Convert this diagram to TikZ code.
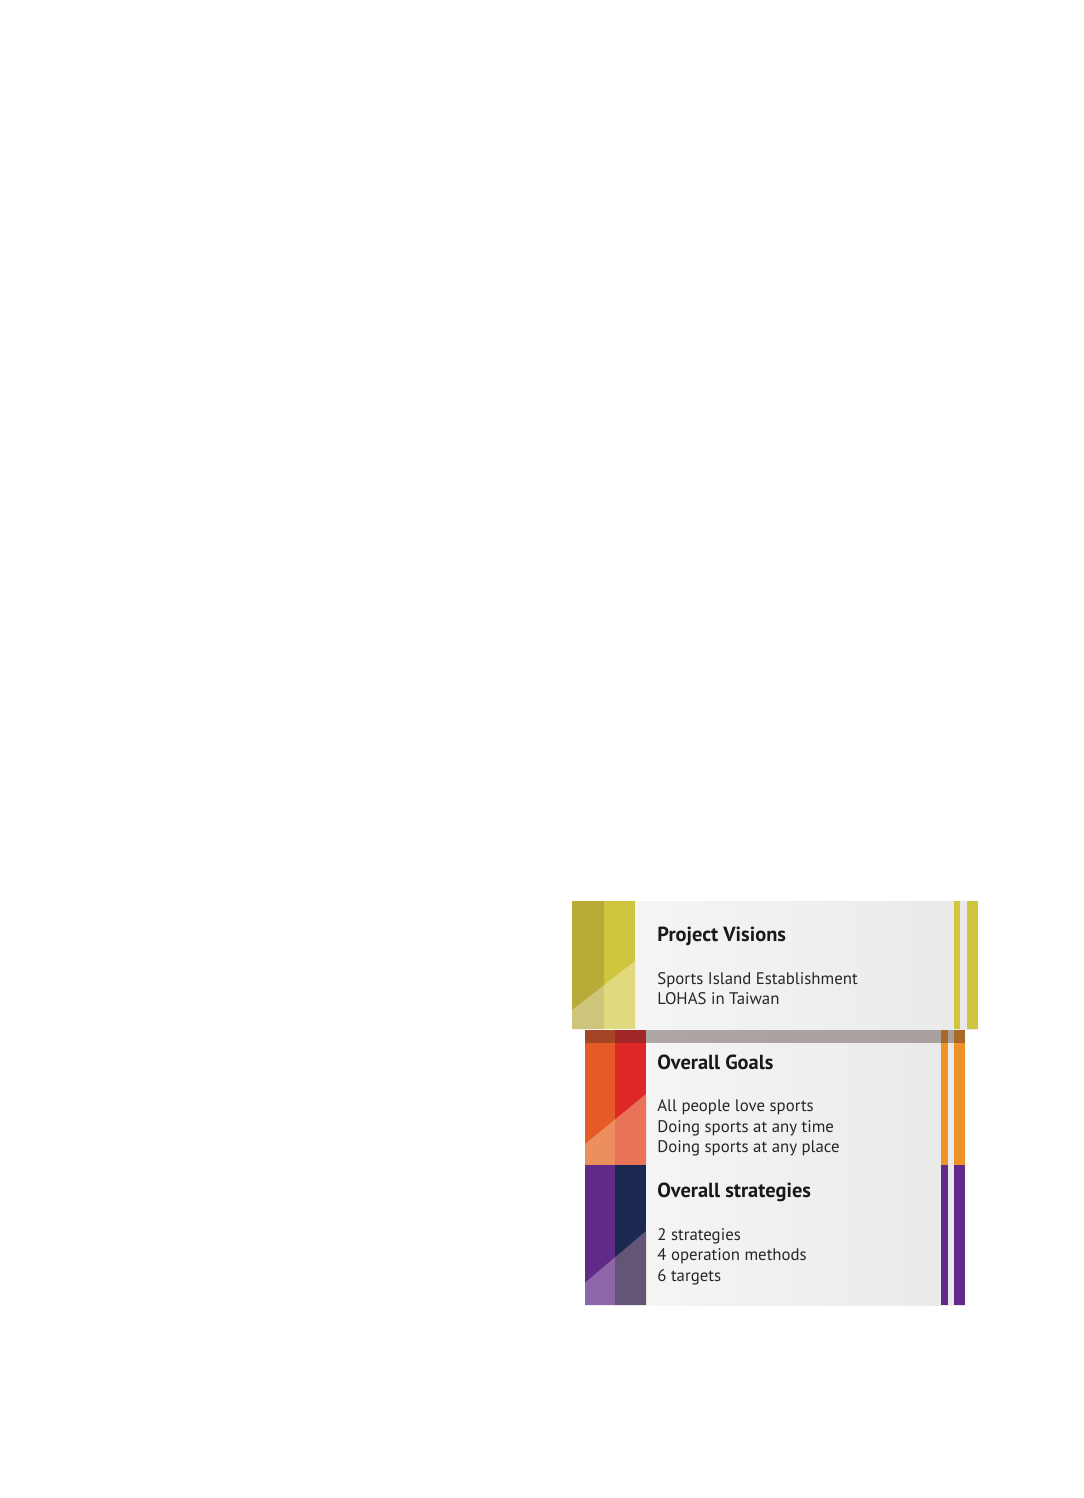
\documentclass[tikz,border=0pt]{standalone}
\usepackage{fontspec}
\setmainfont{PT Sans}
\definecolor{visdark}{HTML}{B8AB37}
\definecolor{vislite}{HTML}{D0C53E}
\definecolor{visdarkpale}{HTML}{CFC57A}
\definecolor{vislitepale}{HTML}{E0D97E}
\definecolor{goalorange}{HTML}{E55A27}
\definecolor{goalred}{HTML}{DF2727}
\definecolor{goalorangepale}{HTML}{EB8F5E}
\definecolor{goalredpale}{HTML}{E87358}
\definecolor{goalside}{HTML}{EF922A}
\definecolor{stratpurple}{HTML}{612A88}
\definecolor{stratnavy}{HTML}{1D2851}
\definecolor{stratpurplepale}{HTML}{8C66A8}
\definecolor{stratnavypale}{HTML}{635576}
\definecolor{barshade}{HTML}{3C2823}
\tikzstyle{panelbg}=[left color=black!4, right color=black!8.5]
\tikzstyle{ptitle}=[anchor=base west, inner sep=0pt, font=\fontsize{10.2}{12}\selectfont\bfseries, text=black!90]
\tikzstyle{pline}=[anchor=base west, inner sep=0pt, font=\fontsize{8.4}{10}\selectfont, text=black!85]

\begin{document}
\begin{tikzpicture}[x=0.5pt, y=-0.5pt]
        \useasboundingbox[fill=white] (0, 0) rectangle (1083, 1498);
        % project visions
        \shade[panelbg] (635, 901) rectangle (978, 1029);
        \fill[visdark] (572, 901) rectangle (604, 1029);
        \fill[vislite] (604, 901) rectangle (635, 1029);
        \fill[visdarkpale] (572, 1010) -- (604, 985.1) -- (604, 1029) -- (572, 1029) -- cycle;
        \fill[vislitepale] (604, 985.1) -- (635, 961) -- (635, 1029) -- (604, 1029) -- cycle;
        \fill[vislite] (954, 901) rectangle (960, 1029);
        \fill[vislite] (967, 901) rectangle (978, 1029);
        \node[ptitle] (vis-title) at (657, 941.7) {Project Visions};
        \node[pline] (vis-a) at (657, 984.3) {Sports Island Establishment};
        \node[pline] (vis-b) at (657, 1004.6) {LOHAS in Taiwan};
        % overall goals
        \shade[panelbg] (646, 1030) rectangle (965, 1165);
        \fill[goalorange] (585, 1030) rectangle (615, 1165);
        \fill[goalred] (615, 1030) rectangle (646, 1165);
        \fill[goalorangepale] (585, 1144) -- (615, 1119.4) -- (615, 1165) -- (585, 1165) -- cycle;
        \fill[goalredpale] (615, 1119.4) -- (646, 1094) -- (646, 1165) -- (615, 1165) -- cycle;
        \fill[goalside] (941, 1030) rectangle (947.7, 1165);
        \fill[goalside] (954, 1030) rectangle (965, 1165);
        \fill[barshade, opacity=0.38] (585, 1030) rectangle (965, 1043);
        \node[ptitle] (goal-title) at (657, 1069.3) {Overall Goals};
        \node[pline] (goal-a) at (657, 1111.7) {All people love sports};
        \node[pline] (goal-b) at (657, 1132.3) {Doing sports at any time};
        \node[pline] (goal-c) at (657, 1152.9) {Doing sports at any place};
        % overall strategies
        \shade[panelbg] (646, 1165) rectangle (965, 1305);
        \fill[stratpurple] (585, 1165) rectangle (615, 1305);
        \fill[stratnavy] (615, 1165) rectangle (646, 1305);
        \fill[stratpurplepale] (585, 1282.7) -- (615, 1257.3) -- (615, 1305) -- (585, 1305) -- cycle;
        \fill[stratnavypale] (615, 1257.3) -- (646, 1231) -- (646, 1305) -- (615, 1305) -- cycle;
        \fill[stratpurple] (941, 1165) rectangle (947.7, 1305);
        \fill[stratpurple] (954, 1165) rectangle (965, 1305);
        \node[ptitle] (strat-title) at (657, 1197.7) {Overall strategies};
        \node[pline] (strat-a) at (657, 1240) {2 strategies};
        \node[pline] (strat-b) at (657, 1260.7) {4 operation methods};
        \node[pline] (strat-c) at (657, 1281.7) {6 targets};
    \end{tikzpicture}
\end{document}
